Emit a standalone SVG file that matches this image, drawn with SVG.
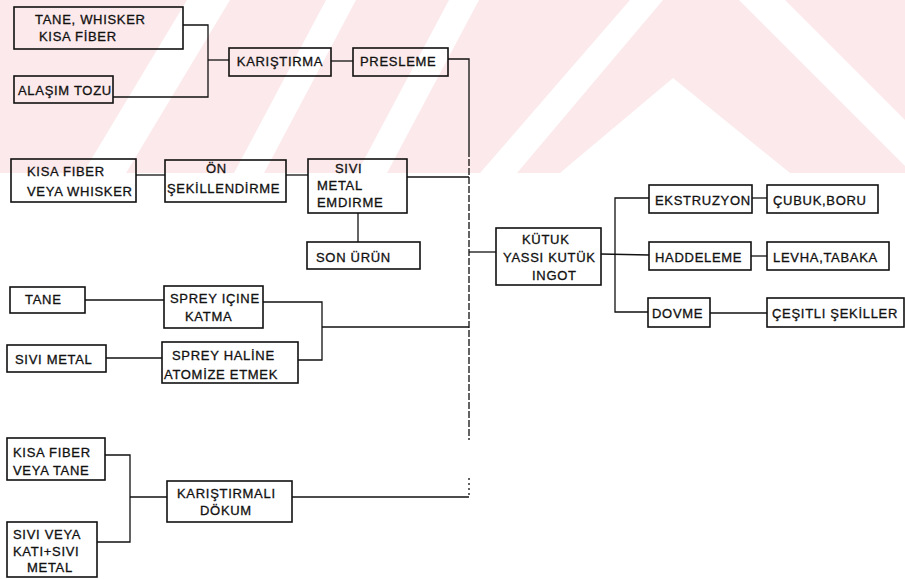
<svg xmlns="http://www.w3.org/2000/svg" width="905" height="579" viewBox="0 0 905 579">
<style>
.bx{fill:none;stroke:#111;stroke-width:1.6}
.t{font-family:"Liberation Sans",Arial,sans-serif;font-size:13px;fill:#111;stroke:#111;stroke-width:0.3;letter-spacing:0.7px}
.c{fill:none;stroke:#111;stroke-width:1.3}
.wm{fill:#fff}
</style>
<rect width="905" height="579" fill="#fff"/>
<g id="watermark">
<rect x="0" y="0" width="905" height="173" fill="#fce9eb"/>
<polygon class="wm" points="187,0 230,0 126,173 83,173"/>
<polygon class="wm" points="326,0 356,0 264,173 234,173"/>
<polygon class="wm" points="449,0 479,0 387,173 357,173"/>
<polygon class="wm" points="630,0 663,0 517,173 480,173"/>
<polygon class="wm" points="673,78 790,173 560,173"/>
<polygon class="wm" points="739,0 785,0 905,120 905,166"/>
</g>
<g id="connectors">
<polyline class="c" points="183,25 208,25 208,97 113,97"/>
<line class="c" x1="208" y1="60" x2="229" y2="60"/>
<line class="c" x1="331" y1="61" x2="353" y2="61" stroke-width="2"/>
<polyline class="c" points="448,59 469,59 469,150"/>
<line class="c" x1="469" y1="150" x2="469" y2="440" stroke-dasharray="7 2"/>
<line class="c" x1="469" y1="478" x2="469" y2="497" stroke-dasharray="2 3"/>
<line class="c" x1="136" y1="175" x2="165" y2="175"/>
<line class="c" x1="286" y1="175" x2="308" y2="175"/>
<line class="c" x1="407" y1="177" x2="469" y2="177"/>
<line class="c" x1="358" y1="213" x2="358" y2="242"/>
<line class="c" x1="469" y1="252" x2="496" y2="252"/>
<line class="c" x1="601" y1="254" x2="649" y2="255"/>
<polyline class="c" points="649,198 615,198 615,312 648,312"/>
<line class="c" x1="752" y1="198" x2="767" y2="198"/>
<line class="c" x1="751" y1="256" x2="767" y2="256"/>
<line class="c" x1="710" y1="313" x2="767" y2="313"/>
<line class="c" x1="85" y1="300" x2="164" y2="300"/>
<line class="c" x1="106" y1="358" x2="162" y2="358"/>
<polyline class="c" points="263,302 322,302 322,360 298,360"/>
<line class="c" x1="322" y1="327" x2="469" y2="327"/>
<polyline class="c" points="105,455 130,455 130,542 97,542"/>
<line class="c" x1="130" y1="497" x2="167" y2="497"/>
<line class="c" x1="292" y1="497" x2="469" y2="497"/>
</g>
<g id="n_tane_whisker"><rect class="bx" x="14" y="7" width="169" height="42"/><text class="t" x="35" y="24">TANE, WHISKER</text><text class="t" x="39" y="41">KISA FİBER</text></g>
<g id="n_alasim"><rect class="bx" x="14" y="76" width="99" height="27"/><text class="t" x="18" y="95" letter-spacing="0.3">ALAŞIM TOZU</text></g>
<g id="n_karistirma"><rect class="bx" x="229" y="48" width="102" height="28"/><text class="t" x="280" y="66" text-anchor="middle">KARIŞTIRMA</text></g>
<g id="n_presleme"><rect class="bx" x="353" y="48" width="95" height="28"/><text class="t" x="360" y="66" letter-spacing="1.2">PRESLEME</text></g>
<g id="n_kisa_fiber"><rect class="bx" x="11" y="159" width="125" height="43"/><text class="t" x="27" y="176" letter-spacing="1.2">KISA FIBER</text><text class="t" x="27" y="196">VEYA WHISKER</text></g>
<g id="n_on_sekil"><rect class="bx" x="165" y="160" width="121" height="42"/><text class="t" x="206" y="173">ÖN</text><text class="t" x="167" y="193" letter-spacing="0.4">ŞEKİLLENDİRME</text></g>
<g id="n_sivi_emdirme"><rect class="bx" x="308" y="159" width="99" height="54"/><text class="t" x="335" y="173">SIVI</text><text class="t" x="317" y="190" letter-spacing="1.2">METAL</text><text class="t" x="317" y="207" letter-spacing="1">EMDIRME</text></g>
<g id="n_son_urun"><rect class="bx" x="307" y="242" width="113" height="27"/><text class="t" x="316" y="262" letter-spacing="1">SON  ÜRÜN</text></g>
<g id="n_kutuk"><rect class="bx" x="496" y="228" width="105" height="57"/><text class="t" x="522" y="244" letter-spacing="1">KÜTUK</text><text class="t" x="503" y="262" letter-spacing="0.3">YASSI KUTÜK</text><text class="t" x="532" y="280" letter-spacing="1">INGOT</text></g>
<g id="n_ekstruzyon"><rect class="bx" x="649" y="185" width="103" height="28"/><text class="t" x="655" y="205" letter-spacing="0.5">EKSTRUZYON</text></g>
<g id="n_cubuk"><rect class="bx" x="767" y="185" width="111" height="28"/><text class="t" x="773" y="205" letter-spacing="0.3">ÇUBUK,BORU</text></g>
<g id="n_haddeleme"><rect class="bx" x="649" y="242" width="102" height="28"/><text class="t" x="655" y="262" letter-spacing="0.3">HADDELEME</text></g>
<g id="n_levha"><rect class="bx" x="767" y="242" width="122" height="28"/><text class="t" x="773" y="262" letter-spacing="1">LEVHA,TABAKA</text></g>
<g id="n_dovme"><rect class="bx" x="648" y="298" width="62" height="29"/><text class="t" x="652" y="318" letter-spacing="0.3">DOVME</text></g>
<g id="n_cesitli"><rect class="bx" x="767" y="298" width="137" height="29"/><text class="t" x="772" y="318" letter-spacing="0.8">ÇEŞITLI ŞEKİLLER</text></g>
<g id="n_tane"><rect class="bx" x="10" y="287" width="75" height="26"/><text class="t" x="25" y="304">TANE</text></g>
<g id="n_sprey_icine"><rect class="bx" x="164" y="286" width="99" height="42"/><text class="t" x="170" y="303" letter-spacing="1">SPREY IÇINE</text><text class="t" x="185" y="321" letter-spacing="1">KATMA</text></g>
<g id="n_sivi_metal"><rect class="bx" x="7" y="345" width="99" height="27"/><text class="t" x="15" y="364" letter-spacing="0.5">SIVI METAL</text></g>
<g id="n_sprey_haline"><rect class="bx" x="162" y="342" width="136" height="41"/><text class="t" x="172" y="360" letter-spacing="1.2">SPREY HALİNE</text><text class="t" x="164" y="379" letter-spacing="0.7">ATOMİZE ETMEK</text></g>
<g id="n_kisa_tane"><rect class="bx" x="7" y="438" width="98" height="42"/><text class="t" x="13" y="457" letter-spacing="0.3">KISA FIBER</text><text class="t" x="13" y="475" letter-spacing="0.5">VEYA TANE</text></g>
<g id="n_sivi_veya"><rect class="bx" x="7" y="522" width="90" height="55"/><text class="t" x="13" y="539" letter-spacing="0.5">SIVI  VEYA</text><text class="t" x="13" y="556" letter-spacing="0.3">KATI+SIVI</text><text class="t" x="27" y="572" letter-spacing="0.5">METAL</text></g>
<g id="n_karistirmali"><rect class="bx" x="167" y="481" width="125" height="41"/><text class="t" x="177" y="498" letter-spacing="0.6">KARIŞTIRMALI</text><text class="t" x="200" y="515" letter-spacing="0.8">DÖKUM</text></g>
</svg>
